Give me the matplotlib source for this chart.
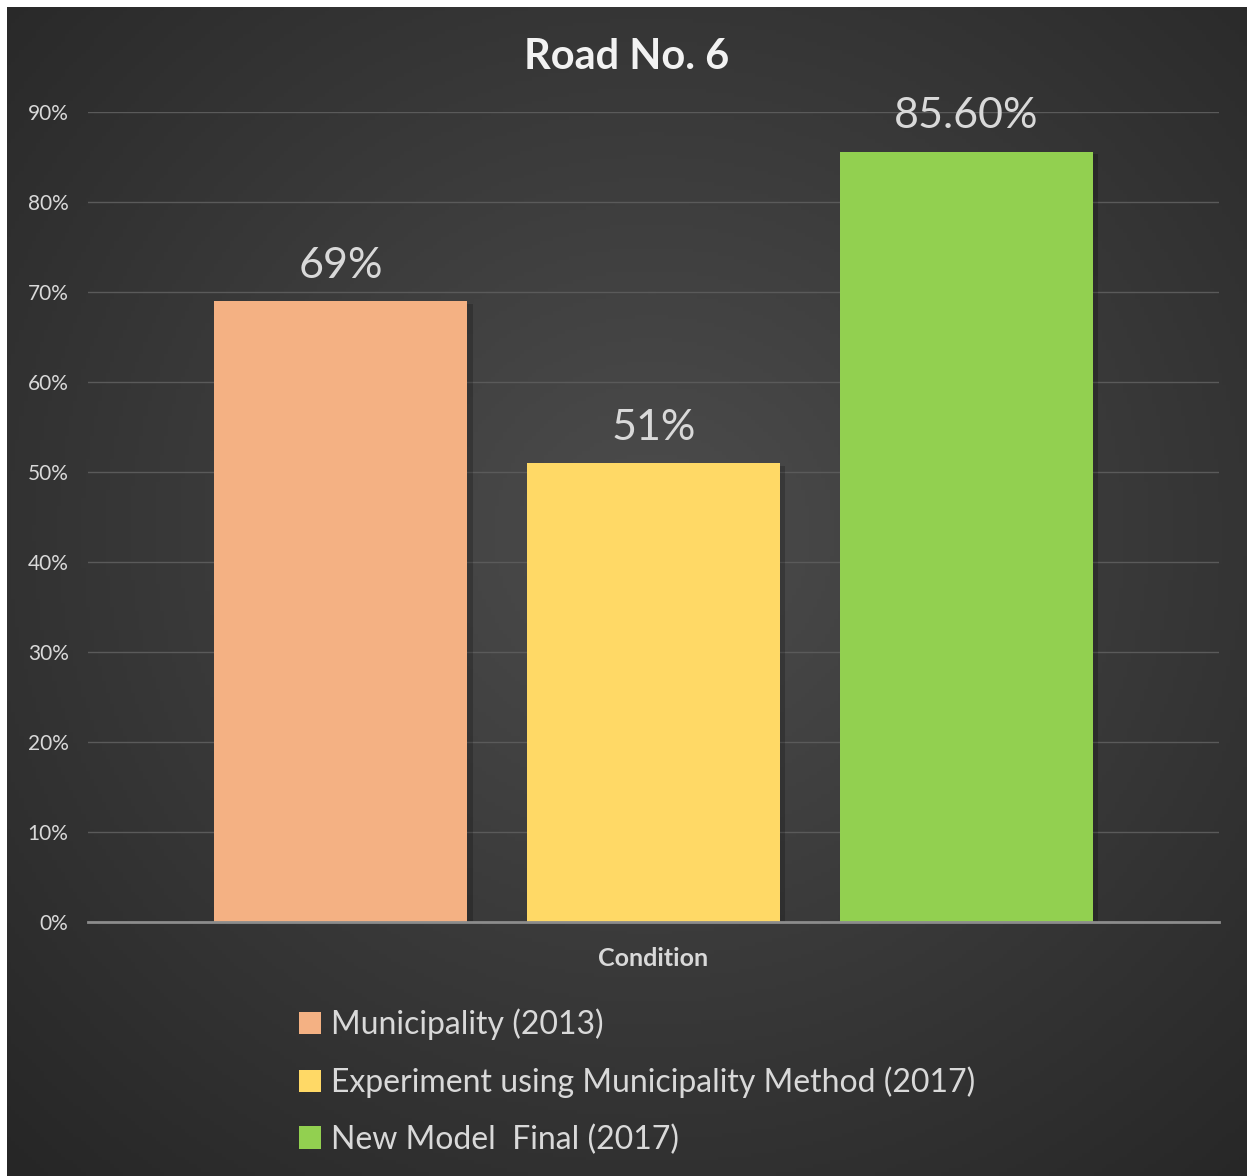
import numpy as np
import matplotlib.pyplot as plt
import matplotlib.patheffects as pe
from matplotlib.patches import Patch
from matplotlib.ticker import PercentFormatter

# Data
series = ['Municipality (2013)', 'Experiment using Municipality Method (2017)', 'New Model  Final (2017)']
values = [0.69, 0.51, 0.856]
labels = ['69%', '51%', '85.60%']
colors = ['#F4B183', '#FFD966', '#92D050']
category = 'Condition'
title = 'Road No. 6'

plt.rcParams['font.family'] = ['Lato', 'DejaVu Sans']

fig = plt.figure(figsize=(12.47, 11.76), dpi=100, facecolor='white')

# dark radial background
bg = fig.add_axes([7 / 1247, 0, 1240 / 1247, 1169 / 1176])
yy, xx = np.mgrid[0:1:300j, 0:1:300j]
r = np.sqrt(((xx - 0.52) / 0.75) ** 2 + ((yy - 0.45) / 0.75) ** 2)
shade = np.clip(1 - r, 0, 1)
grad = 0.15 + 0.15 * shade
bg.imshow(np.dstack([grad, grad, grad]), aspect='auto', extent=[0, 1, 0, 1], origin='upper')
bg.axis('off')

ax = fig.add_axes([88 / 1247, 1 - 922 / 1176, 1131 / 1247, 810 / 1176])
ax.set_facecolor('none')

x = np.arange(len(values))
bars = ax.bar(x, values, width=0.808, color=colors, zorder=3)
for b in bars:
    b.set_path_effects([pe.SimplePatchShadow(offset=(4, -2), shadow_rgbFace='black', alpha=0.2), pe.Normal()])

for xi, v, lab in zip(x, values, labels):
    ax.text(xi, v + 0.018, lab, ha='center', va='bottom', fontsize=31, color='#D9D9D9', zorder=4)

ax.set_xlim(-0.807, 2.807)
ax.set_ylim(0, 0.9)
ax.set_yticks(np.arange(0, 0.91, 0.1))
ax.yaxis.set_major_formatter(PercentFormatter(1.0, decimals=0))
ax.tick_params(axis='y', length=0, pad=14, labelsize=15, labelcolor='#D9D9D9')
ax.set_xticks([])
ax.grid(axis='y', color='#5A5A5A', linewidth=1, zorder=0)
for s in ['top', 'right', 'left']:
    ax.spines[s].set_visible(False)
ax.spines['bottom'].set_color('#8C8C8C')
ax.spines['bottom'].set_linewidth(2)
ax.spines['bottom'].set_zorder(5)

ax.set_xlabel(category, fontsize=18, fontweight='bold', color='#D9D9D9', labelpad=18)

fig.text(627 / 1247, 1 - 57 / 1176, title, ha='center', va='center', fontsize=30,
         fontweight='bold', color='#F2F2F2')

handles = [Patch(facecolor=c, label=s) for c, s in zip(colors, series)]
fig.legend(handles=handles, loc='upper left', bbox_to_anchor=(270 / 1247, 1 - 980 / 1176),
           frameon=False, fontsize=23, labelcolor='#D9D9D9', handlelength=0.7, handleheight=0.7,
           handletextpad=0.3, labelspacing=0.82)

fig.savefig('out.png', dpi=100, facecolor='white')
